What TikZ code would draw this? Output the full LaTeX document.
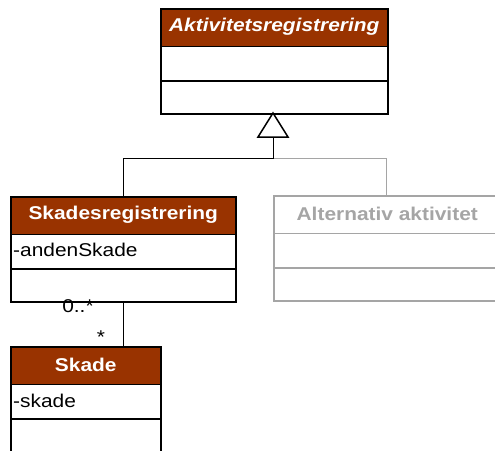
\documentclass[tikz,border=0pt]{standalone}
\usepackage{fontspec}
\setmainfont{Liberation Sans}[FakeStretch=1.13]
\definecolor{hdrbrown}{RGB}{153,51,0}
\definecolor{ghost}{RGB}{165,165,165}
\begin{document}
\begin{tikzpicture}[x=1pt,y=-1pt,
  every node/.style={font=\fontsize{18.5pt}{22pt}\selectfont},
  % #1 width, #2 line colour, #3 header fill
  umlclass/.style n args={3}{draw=#2, line width=1.5pt, fill=white,
    minimum width=#1, minimum height=105pt, anchor=north west, inner sep=0pt,
    path picture={
      \fill[#3] (path picture bounding box.north west) rectangle
        ([yshift=-37.5pt]path picture bounding box.north east);
      \draw[#2, line width=1.5pt]
        ([yshift=-37.5pt]path picture bounding box.north west) --
        ([yshift=-37.5pt]path picture bounding box.north east);
      \draw[#2, line width=1.5pt]
        ([yshift=-72pt]path picture bounding box.north west) --
        ([yshift=-72pt]path picture bounding box.north east);
    }},
  hdrtext/.style={text=white, font=\fontsize{18.5pt}{22pt}\selectfont\bfseries},
  attr/.style={anchor=west, inner sep=0pt},
  conn/.style={line width=1pt, draw=black},
  mult/.style={inner sep=0pt, anchor=base}
]
\useasboundingbox (0,0) rectangle (495,450);
\clip (0,0) rectangle (495,450);

% classes
\node[umlclass={227pt}{black}{hdrbrown}] (act) at (160,8) {};
\node[umlclass={225pt}{black}{hdrbrown}] (skr) at (10,196) {};
\node[umlclass={227pt}{ghost}{white}] (alt) at (273,195) {};
\node[umlclass={150pt}{black}{hdrbrown}] (sk) at (10,346) {};

% class names and attributes
\node[hdrtext, font=\fontsize{18.5pt}{22pt}\selectfont\bfseries\itshape] (actname) at ([yshift=-19pt]act.north) {Aktivitetsregistrering};
\node[hdrtext] (skrname) at ([yshift=-18.5pt]skr.north) {Skadesregistrering};
\node[attr] (skrattr) at ([xshift=3pt,yshift=-54pt]skr.north west) {-andenSkade};
\node[hdrtext, text=ghost] (altname) at ([yshift=-19pt]alt.north) {Alternativ aktivitet};
\node[hdrtext] (skname) at ([yshift=-19pt]sk.north) {Skade};
\node[attr] (skattr) at ([xshift=3pt,yshift=-55pt]sk.north west) {-skade};

% generalisation
\coordinate (apex) at (273,113);
\coordinate (tribase) at (273,137);
\coordinate (junction) at (273,158);
\draw[ghost, line width=1pt] (junction) -| (alt.north -| 386,0);
\draw[conn] (tribase) -- (junction) -| (skr.north);
\draw[line width=1.5pt, fill=white, line join=miter] (apex) -- (258,137) -- (288,137) -- cycle;

% association
\draw[conn] (skr.south) -- (sk.north -| skr.south);
\node[mult] (m1) at (78,312) {0..*};
\node[mult] (m2) at (101,343) {*};
\end{tikzpicture}
\end{document}
